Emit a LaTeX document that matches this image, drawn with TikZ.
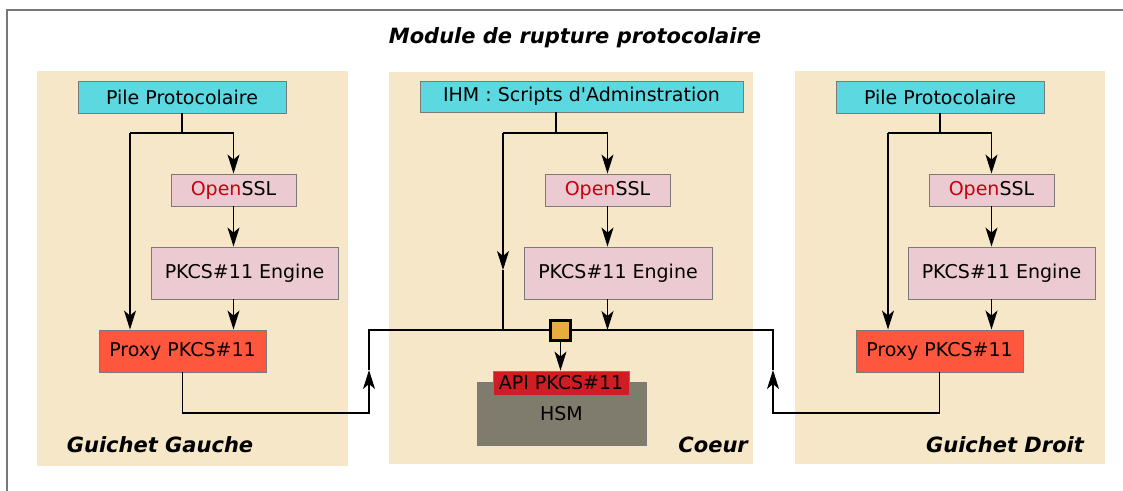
\documentclass[tikz,border=0pt]{standalone}
\usepackage{fontspec}
\setmainfont{DejaVu Sans}[Ligatures=TeXOff]
\usetikzlibrary{arrows.meta}
\definecolor{beige}{HTML}{F7E7C9}
\definecolor{cyanbox}{HTML}{5BD8E0}
\definecolor{pinkbox}{HTML}{ECCAD1}
\definecolor{proxyc}{HTML}{FF573D}
\definecolor{apic}{HTML}{D01C25}
\definecolor{hsmc}{HTML}{7F7B6D}
\definecolor{sqc}{HTML}{E9AD3D}
\definecolor{boxline}{HTML}{7A7A7A}
\definecolor{framec}{HTML}{777777}
\definecolor{openred}{HTML}{C8000F}
\begin{document}
\begin{tikzpicture}[x=1pt,y=-1pt,
  box/.style={draw=boxline, line width=0.9pt, inner sep=0pt, font=\fontsize{19}{22}\selectfont},
  pile/.style={box, fill=cyanbox},
  pink/.style={box, fill=pinkbox},
  proxy/.style={box, fill=proxyc},
  lbl/.style={font=\fontsize{21}{24}\selectfont\bfseries\itshape, inner sep=0pt},
  arr/.style={-{Stealth[length=19pt,width=12pt,inset=5pt]}, line width=1.3pt},
  ln/.style={line width=1.3pt}]
\useasboundingbox (0,0) rectangle (1123,490);
\clip (0,0) rectangle (1123,490);
\draw[framec, line width=1.5pt] (7,500) -- (7,10) -- (1130,10);
\node[lbl] (title) at (575,38) {Module de rupture protocolaire};
% panels
\fill[beige] (37,71) rectangle (348,466);
\fill[beige] (389,72) rectangle (753,464);
\fill[beige] (795,71) rectangle (1105,464);
% ===== left =====
\node[pile, minimum width=208pt, minimum height=32pt] (lp) at (182,97) {Pile Protocolaire};
\node[pink, minimum width=125pt, minimum height=32pt] (lo) at (233.5,190) {\textcolor{openred}{Open}SSL};
\node[pink, minimum width=187pt, minimum height=52pt] (le) at (244.5,273) {PKCS\#11 Engine};
\node[proxy, minimum width=167pt, minimum height=42pt] (lx) at (182.5,351) {Proxy PKCS\#11};
\coordinate (lleft) at (130,133);
\draw[ln] (lp.south) -- (lp.south |- lleft);
\draw[arr] (lleft) -| (lo.north);
\draw[arr] (lleft) -- (lleft |- lx.north);
\draw[arr] (lo.south) -- (lo.south |- le.north);
\draw[arr] (le.south -| lo.south) -- (lo.south |- lx.north);
% ===== center =====
\node[pile, minimum width=323pt, minimum height=31pt] (ci) at (581.5,96.5) {IHM : Scripts d'Adminstration};
\node[pink, minimum width=125pt, minimum height=32pt] (co) at (607.5,190) {\textcolor{openred}{Open}SSL};
\node[pink, minimum width=188pt, minimum height=52pt] (ce) at (618,273) {PKCS\#11 Engine};
\node[box, fill=hsmc, minimum width=169pt, minimum height=63pt] (hsm) at (561.5,413.5) {HSM};
\node[box, fill=apic, minimum width=136pt, minimum height=24pt] (api) at (561,383) {API PKCS\#11};
\coordinate (cleft) at (503,133);
\coordinate (cj) at (556,133);
\coordinate (cmid) at (503,270);
\coordinate (lbus) at (369,330);
\coordinate (rbus) at (773,330);
\coordinate (lmid) at (369,370);
\coordinate (rmid) at (773,370);
\draw[ln] (ci.south -| cj) -- (cj);
\draw[arr] (cleft) -| (co.north);
\draw[arr] (cleft) -- (cmid);
\draw[ln] (cmid) -- (cleft |- lbus);
\draw[arr] (co.south) -- (co.south |- ce.north);
\draw[ln] (lmid) -- (lbus) -- (rbus) -- (rmid);
\draw[arr] (ce.south -| co.south) -- (co.south |- lbus);
\node[draw=black, fill=sqc, line width=3pt, minimum size=20pt, inner sep=0pt] (sq) at (560.5,330.5) {};
\draw[arr] (sq.south) -- (sq.south |- api.north);
\node[lbl, anchor=east] (coeur) at (748,445) {Coeur};
% ===== right =====
\node[pile, minimum width=208pt, minimum height=32pt] (rp) at (940,97) {Pile Protocolaire};
\node[pink, minimum width=125pt, minimum height=32pt] (ro) at (991.5,190) {\textcolor{openred}{Open}SSL};
\node[pink, minimum width=187pt, minimum height=52pt] (re) at (1001.5,273) {PKCS\#11 Engine};
\node[proxy, minimum width=167pt, minimum height=42pt] (rx) at (939.5,351) {Proxy PKCS\#11};
\coordinate (rleft) at (888,133);
\draw[ln] (rp.south) -- (rp.south |- rleft);
\draw[arr] (rleft) -| (ro.north);
\draw[arr] (rleft) -- (rleft |- rx.north);
\draw[arr] (ro.south) -- (ro.south |- re.north);
\draw[arr] (re.south -| ro.south) -- (ro.south |- rx.north);
% returns
\coordinate (lret) at (369,413);
\coordinate (rret) at (773,413);
\draw[arr] (lx.south) |- (lret) -- (lmid);
\draw[arr] (rx.south) |- (rret) -- (rmid);
\node[lbl] (gg) at (160,445) {Guichet Gauche};
\node[lbl] (gd) at (1005,445) {Guichet Droit};
\end{tikzpicture}
\end{document}
